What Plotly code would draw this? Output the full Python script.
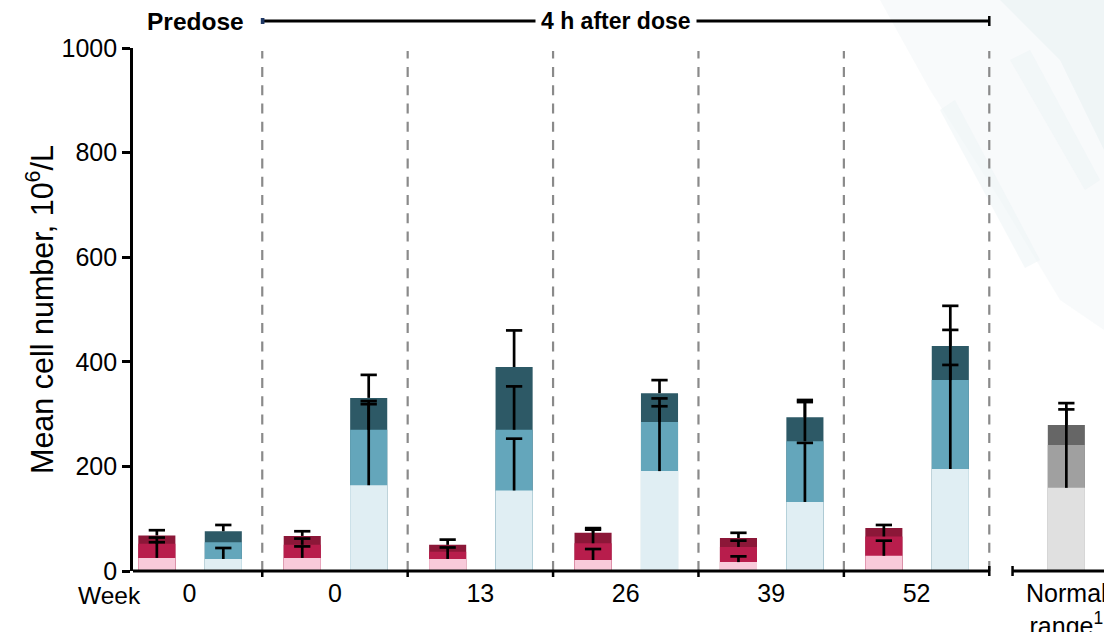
import plotly.graph_objects as go

# ---------------- data ----------------
tick_labels = ["0", "0", "13", "26", "39", "52", "Normal<br>range<sup>1</sup>"]
group_pos = [0, 1, 2, 3, 4, 5]
normal_pos = 6

# red series (three overlaid layers: total / mid / low)
red_total = [68, 67, 50, 73, 63, 82]
red_mid = [52, 50, 37, 53, 46, 66]
red_low = [25, 25, 23, 21, 17, 29]
red_total_sd = [10, 9, 10, 9, 10, None]
red_mid_sd = [12, 12, None, 26, 12, 22]
red_low_sd = [30, 22, 22, 21, 11, 29]

# teal series
teal_total = [76, 331, 390, 340, 294, 430]
teal_mid = [55, 270, 270, 285, 248, 365]
teal_low = [23, 164, 154, 191, 132, 195]
teal_total_sd = [12, 44, 70, 25, 33, 77]
teal_mid_sd = [None, 55, 83, 45, 75, 96]
teal_low_sd = [21, 155, 99, 124, 113, 199]

# normal range (grey)
grey_total = [279]
grey_mid = [241]
grey_low = [159]
grey_total_sd = [42]
grey_mid_sd = [None]
grey_low_sd = [150]

# ---------------- styling ----------------
FONT = "Liberation Sans, Arial, sans-serif"
RED = ["#8C1738", "#B81D4C", "#F8CADA"]
TEAL = ["#2D5966", "#64A6BB", "#E0EEF3"]
GREY = ["#666666", "#A0A0A0", "#E0E0E0"]
BAR_W = 0.255
OFF_RED = -0.225
OFF_TEAL = 0.232
CAP = 0.056

x_red = [g + OFF_RED for g in group_pos]
x_teal = [g + OFF_TEAL for g in group_pos]
x_grey = [normal_pos + 0.03]

fig = go.Figure()

series = [
    (x_red, [red_total, red_mid, red_low], [red_total_sd, red_mid_sd, red_low_sd], RED),
    (x_teal, [teal_total, teal_mid, teal_low], [teal_total_sd, teal_mid_sd, teal_low_sd], TEAL),
    (x_grey, [grey_total, grey_mid, grey_low], [grey_total_sd, grey_mid_sd, grey_low_sd], GREY),
]

# bars: largest layer first so the smaller ones sit on top
for layer in range(3):
    for xs, vals, sds, cols in series:
        fig.add_trace(go.Bar(
            x=xs, y=vals[layer], width=BAR_W,
            marker=dict(color=cols[layer], line=dict(width=0)),
            showlegend=False, hoverinfo="skip",
        ))

# upper-only error bars, built from mean and SD
ex, ey = [], []
for layer in range(3):
    for xs, vals, sds, cols in series:
        for x, m, s in zip(xs, vals[layer], sds[layer]):
            if s is None:
                continue
            ex += [x, x, None, x - CAP, x + CAP, None]
            ey += [m, m + s, None, m + s, m + s, None]
fig.add_trace(go.Scatter(x=ex, y=ey, mode="lines",
                         line=dict(color="black", width=2.7),
                         showlegend=False, hoverinfo="skip"))

def px_x(px):
    return (px - 133) / 971

def px_y(py):
    return (571 - py) / 523

shapes = []

# decorative faint watercolour wash top right
def poly(points, color):
    d = "M " + " L ".join(f"{px_x(a):.4f},{px_y(b):.4f}" for a, b in points) + " Z"
    return dict(type="path", path=d, xref="paper", yref="paper",
                fillcolor=color, line=dict(width=0), layer="below")

shapes.append(poly([(880, 0), (1104, 0), (1104, 330), (1060, 300), (1000, 200), (930, 90)],
                   "rgba(214,230,234,0.18)"))
shapes.append(poly([(1000, 0), (1104, 0), (1104, 150), (1060, 60)], "rgba(200,220,226,0.18)"))
shapes.append(poly([(1010, 60), (1030, 50), (1100, 180), (1085, 190)], "rgba(235,243,245,0.5)"))
shapes.append(poly([(940, 110), (955, 100), (1040, 260), (1025, 268)], "rgba(235,243,245,0.5)"))

# dashed separators between groups
for b in [0.5, 1.5, 2.5, 3.5, 4.5, 5.5]:
    shapes.append(dict(type="line", xref="x", yref="paper", x0=b, x1=b,
                       y0=0, y1=px_y(51), line=dict(color="#8a8a8a", width=2.2, dash="10px,8.3px")))

# x axis baseline, broken before the normal-range group
shapes.append(dict(type="line", xref="x", yref="paper", x0=-0.389, x1=5.5, y0=0, y1=0,
                   line=dict(color="black", width=3)))
shapes.append(dict(type="line", xref="x", yref="paper", x0=5.66, x1=6.3, y0=0, y1=0,
                   line=dict(color="black", width=3)))
for b in [0.5, 1.5, 2.5, 3.5, 4.5]:
    shapes.append(dict(type="line", xref="x", yref="paper", x0=b, x1=b,
                       y0=0, y1=-6 / 523, line=dict(color="black", width=2.5)))
for b in [5.5, 5.66]:
    shapes.append(dict(type="line", xref="x", yref="paper", x0=b, x1=b,
                       y0=-5 / 523, y1=5 / 523, line=dict(color="black", width=2.5)))

# top bracket "4 h after dose"
shapes.append(dict(type="line", xref="x", yref="paper", x0=0.5, x1=5.5,
                   y0=px_y(21), y1=px_y(21), line=dict(color="black", width=3)))
shapes.append(dict(type="rect", xref="x", yref="paper", x0=0.49, x1=0.515,
                   y0=px_y(24), y1=px_y(18), fillcolor="#1F3864", line=dict(width=0)))
shapes.append(dict(type="line", xref="x", yref="paper", x0=5.5, x1=5.5,
                   y0=px_y(16), y1=px_y(26), line=dict(color="black", width=2.5)))

annotations = [
    dict(text="<b>Predose</b>", xref="x", yref="paper", x=0.04, y=px_y(21),
         showarrow=False, font=dict(size=24.5, color="black", family=FONT),
         xanchor="center", yanchor="middle"),
    dict(text="<b>4 h after dose</b>", xref="x", yref="paper", x=2.93, y=px_y(21),
         showarrow=False, font=dict(size=23, color="black", family=FONT),
         xanchor="center", yanchor="middle", bgcolor="white", borderpad=5),
    dict(text="Week", xref="paper", yref="paper", x=px_x(143), y=px_y(595),
         showarrow=False, font=dict(size=24.5, color="black", family=FONT),
         xanchor="right", yanchor="middle"),
    dict(text="Mean cell number, 10<sup>6</sup>/L", xref="paper", yref="paper",
         x=px_x(40), y=px_y(310), textangle=-90, showarrow=False,
         font=dict(size=30.5, color="black", family=FONT),
         xanchor="center", yanchor="middle"),
]

fig.update_layout(
    width=1104, height=632,
    margin=dict(l=133, r=0, t=48, b=61, autoexpand=False),
    paper_bgcolor="white", plot_bgcolor="rgba(0,0,0,0)",
    barmode="overlay",
    font=dict(family=FONT, color="black"),
    shapes=shapes, annotations=annotations,
    xaxis=dict(range=[-0.389, 6.289], tickvals=group_pos + [normal_pos + 0.03], ticktext=tick_labels,
               showline=False, showgrid=False, zeroline=False, ticks="",
               ticklabelstandoff=5, ticklabeloverflow="allow", automargin=False,
               tickfont=dict(size=25, family=FONT, color="black")),
    yaxis=dict(range=[0, 1000], tickvals=[0, 200, 400, 600, 800, 1000],
               showline=True, linecolor="black", linewidth=2.6,
               ticks="outside", ticklen=8, tickwidth=2.6, tickcolor="black",
               showgrid=False, zeroline=False, automargin=False,
               tickfont=dict(size=25, family=FONT, color="black")),
)

fig.write_html("out.html")
